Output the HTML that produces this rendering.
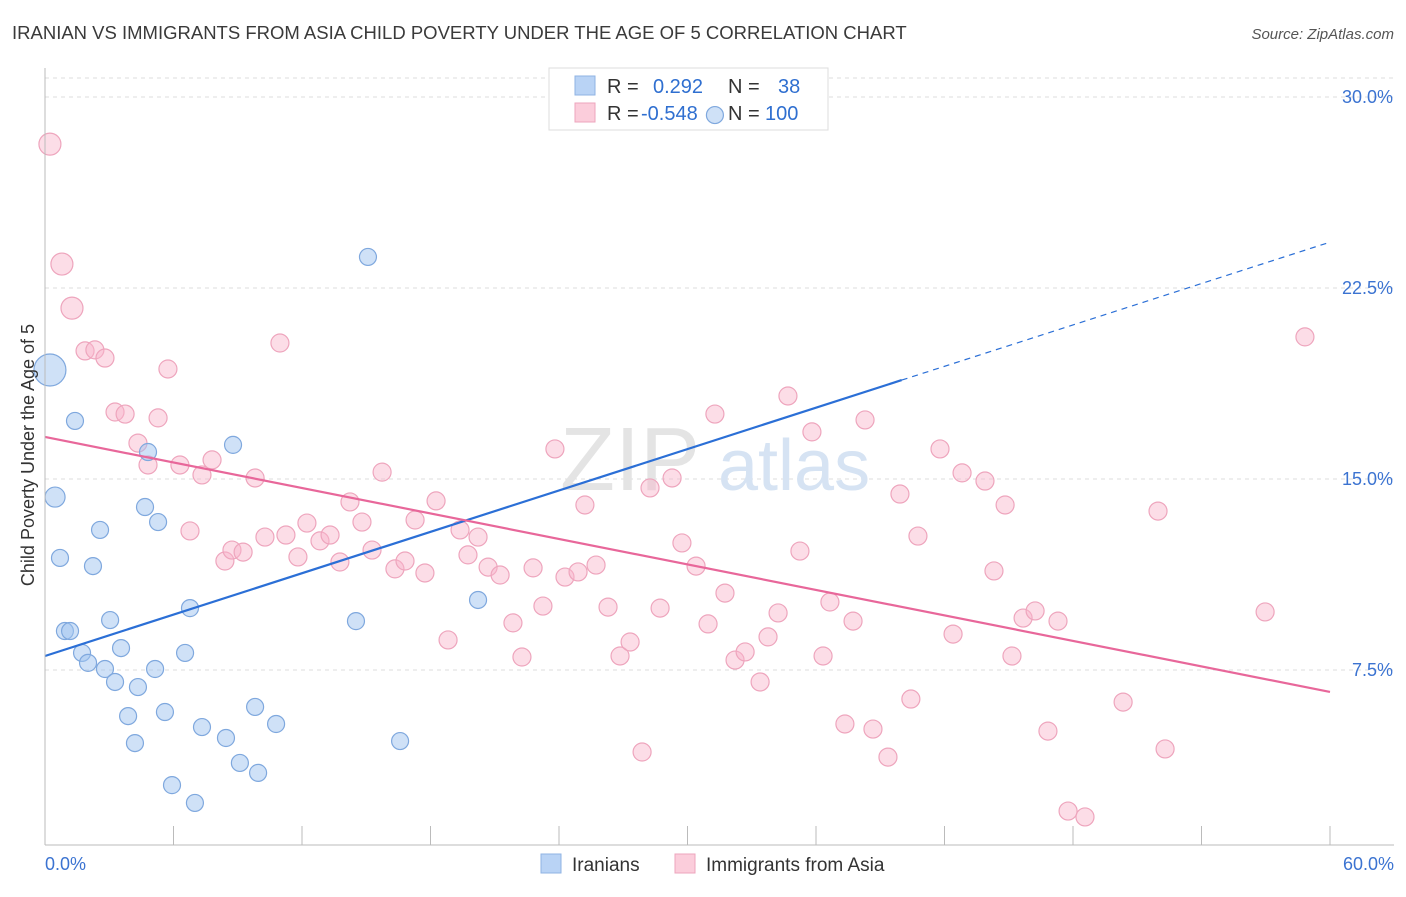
<!DOCTYPE html>
<html><head><meta charset="utf-8"><style>
body{margin:0;background:#fff;font-family:"Liberation Sans",sans-serif;}
svg text{font-family:"Liberation Sans",sans-serif;}
</style></head><body>
<svg id="chart" width="1406" height="892" viewBox="0 0 1406 892">
<text x="12" y="39" font-size="18.5" fill="#3a3a3a">IRANIAN VS IMMIGRANTS FROM ASIA CHILD POVERTY UNDER THE AGE OF 5 CORRELATION CHART</text>
<text x="1394" y="39" font-size="15" fill="#555" font-style="italic" text-anchor="end">Source: ZipAtlas.com</text>
<g id="grid"></g>
<text x="700" y="490" font-size="90" fill="#e4e4e4" text-anchor="end" font-family="Liberation Serif">ZIP</text>
<text x="718" y="490" font-size="72" fill="#d6e3f3">atlas</text>
<g>
<rect x="549" y="68" width="279" height="62" fill="#fff" stroke="#ddd"/>
<rect x="575" y="76" width="20" height="19" fill="#b9d3f5" stroke="#8fb3e3"/>
<rect x="575" y="103" width="20" height="19" fill="#fbcddb" stroke="#eea5bd"/>
<text x="607" y="93" font-size="20" fill="#333">R = <tspan fill="#2f6fd0" x="653">0.292</tspan><tspan fill="#333" x="728">N =</tspan><tspan fill="#2f6fd0" x="778">38</tspan></text>
<text x="607" y="120" font-size="20" fill="#333">R = <tspan fill="#2f6fd0" x="641">-0.548</tspan><tspan fill="#333" x="728">N =</tspan><tspan fill="#2f6fd0" x="765">100</tspan></text>
</g>
<g id="marks"></g>
<g id="axes"></g>
<text transform="translate(34,455) rotate(-90)" font-size="18" fill="#333" text-anchor="middle">Child Poverty Under the Age of 5</text>
<g>
<rect x="541" y="854" width="20" height="19" fill="#b9d3f5" stroke="#8fb3e3"/>
<text x="572" y="871" font-size="19" fill="#333">Iranians</text>
<rect x="675" y="854" width="20" height="19" fill="#fbcddb" stroke="#eea5bd"/>
<text x="706" y="871" font-size="19" fill="#333">Immigrants from Asia</text>
</g>
</svg>
<script>
const yTicks=[7.5,15,22.5,30];
const yTickLabels=["7.5%","15.0%","22.5%","30.0%"];
const xTickVals=[0,6,12,18,24,30,36,42,48,54,60];
const xEndLabels=["0.0%","60.0%"];
const iraniansX=[0.23,0.47,0.70,1.40,0.93,1.17,1.73,2.01,2.24,2.57,3.04,2.80,3.27,3.55,3.88,4.20,4.34,4.67,4.81,5.14,5.28,5.60,5.93,6.54,6.77,7.00,7.33,8.45,8.78,9.10,9.81,9.95,10.79,14.52,15.08,16.58,20.22,31.28];
const iraniansY=[19.28,14.29,11.90,17.28,9.03,9.03,8.17,7.78,11.58,13.00,9.46,7.54,7.03,8.36,5.69,4.63,6.83,13.90,16.06,7.54,13.31,5.85,2.98,8.17,9.93,2.28,5.26,4.83,16.34,3.85,6.05,3.46,5.38,9.42,23.72,4.71,10.25,29.29];
const asiaX=[0.23,0.79,1.26,1.87,2.33,2.80,3.27,3.74,4.34,4.81,5.28,5.74,6.30,6.77,7.33,7.80,8.40,8.73,9.25,9.81,10.27,10.97,11.25,11.81,12.23,12.84,13.31,13.77,14.24,14.80,15.27,15.74,16.34,16.81,17.28,17.74,18.26,18.82,19.38,19.75,20.22,20.69,21.25,21.85,22.27,22.79,23.25,23.81,24.28,24.89,25.21,25.73,26.29,26.85,27.32,27.88,28.25,28.72,29.28,29.74,30.40,30.96,31.28,31.75,32.22,32.69,33.39,33.76,34.23,34.69,35.25,35.81,36.33,36.65,37.35,37.73,38.29,38.66,39.36,39.92,40.43,40.76,41.79,42.40,42.82,43.89,44.31,44.83,45.15,45.67,46.23,46.83,47.30,47.77,48.56,50.34,51.97,52.30,56.97,58.83];
const asiaY=[28.15,23.44,21.71,20.03,20.07,19.75,17.63,17.55,16.41,15.55,17.40,19.32,15.55,12.96,15.16,15.75,11.78,12.21,12.13,15.04,12.72,20.34,12.80,11.94,13.27,12.57,12.80,11.74,14.10,13.31,12.21,15.27,11.47,11.78,13.39,11.31,14.14,8.68,13.00,12.02,12.72,11.54,11.23,9.35,8.01,11.51,10.01,16.18,11.15,11.35,13.98,11.62,9.97,8.05,8.60,4.28,14.65,9.93,15.04,12.49,11.58,9.31,17.55,10.52,7.89,8.21,7.03,8.80,9.74,18.26,12.17,16.85,8.05,10.17,5.38,9.42,17.32,5.18,4.08,14.41,6.36,12.76,16.18,8.91,15.24,14.92,11.39,13.98,8.05,9.54,9.82,5.10,9.42,1.96,1.73,6.24,13.74,4.40,9.78,20.58];
const trendStart=[8.05,16.65];
const trendEnd=[24.3,6.64];
const ns="http://www.w3.org/2000/svg";
const X=v=>45+v/60*1285, Y=v=>861-v/7.5*191;
function mk(tag,attrs,parent){const e=document.createElementNS(ns,tag);for(const k in attrs)e.setAttribute(k,attrs[k]);parent.appendChild(e);return e;}
const grid=document.getElementById('grid'),axes=document.getElementById('axes'),marks=document.getElementById('marks');
mk('line',{x1:45,y1:78,x2:1394,y2:78,stroke:'#ddd','stroke-dasharray':'4,4'},grid);
yTicks.forEach((t,i)=>{
 const l=mk('line',{x1:45,y1:Y(t),x2:1394,y2:Y(t),stroke:'#ddd','stroke-dasharray':'4,4'},grid);
 
 
 const tx=mk('text',{x:1393,y:Y(t)+6,'font-size':18,fill:'#3b73d1','text-anchor':'end'},axes);
 tx.textContent=yTickLabels[i];
 
 
});
mk('line',{x1:45,y1:68,x2:45,y2:845,stroke:'#bbb'},axes);
mk('line',{x1:45,y1:845,x2:1394,y2:845,stroke:'#bbb'},axes);
xTickVals.forEach(v=>{const t=mk('line',{x1:X(v),y1:826,x2:X(v),y2:845,stroke:'#bbb'},axes);
 
 });
[[0,'start',45],[60,'end',1394]].forEach((a,i)=>{const t=mk('text',{x:a[2],y:870,'font-size':18,fill:'#3b73d1','text-anchor':a[1]},axes);t.textContent=xEndLabels[i];
 
 });
asiaX.forEach((x,i)=>{const c=mk('circle',{cx:X(x),cy:Y(asiaY[i]),r:(i<3?11:9),fill:'rgba(248,180,202,0.45)',stroke:'#eea5bd','stroke-width':1.2},marks);
 
 });
iraniansX.forEach((x,i)=>{const c=mk('circle',{cx:X(x),cy:Y(iraniansY[i]),r:(i==0?16:(i<2?10:8.5)),fill:'rgba(160,195,240,0.5)',stroke:'#7fa8de','stroke-width':1.2},marks);
 
 });
const bx=(x)=>trendStart[0]+(trendEnd[0]-trendStart[0])*x/60;
let l1=mk('line',{x1:X(0),y1:Y(bx(0)),x2:X(40),y2:Y(bx(40)),stroke:'#2b6fd6','stroke-width':2.2},marks);


let l2=mk('line',{x1:X(40),y1:Y(bx(40)),x2:X(60),y2:Y(bx(60)),stroke:'#2b6fd6','stroke-width':1.2,'stroke-dasharray':'6,5'},marks);


let l3=mk('line',{x1:X(0),y1:Y(trendStart[1]),x2:X(60),y2:Y(trendEnd[1]),stroke:'#e8679a','stroke-width':2.2},marks);


</script>
</body></html>
